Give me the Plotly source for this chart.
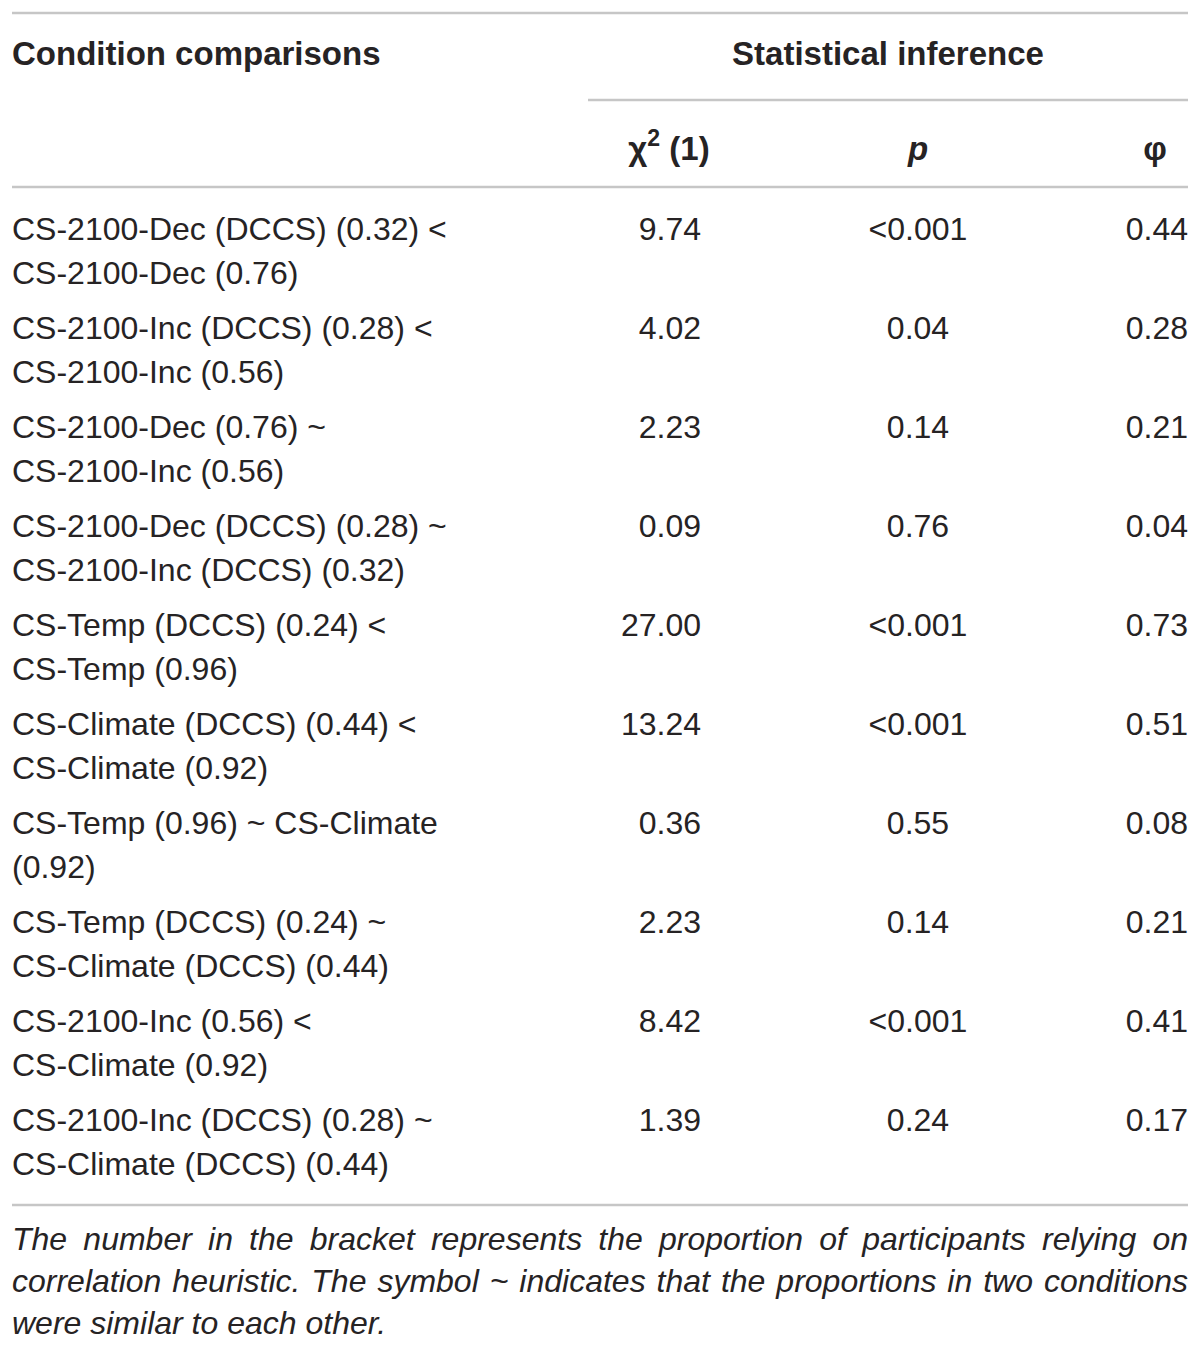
import plotly.graph_objects as go

# ---------------- data ----------------
comparison_line1 = [
    "CS-2100-Dec (DCCS) (0.32) <",
    "CS-2100-Inc (DCCS) (0.28) <",
    "CS-2100-Dec (0.76) ~",
    "CS-2100-Dec (DCCS) (0.28) ~",
    "CS-Temp (DCCS) (0.24) <",
    "CS-Climate (DCCS) (0.44) <",
    "CS-Temp (0.96) ~ CS-Climate",
    "CS-Temp (DCCS) (0.24) ~",
    "CS-2100-Inc (0.56) <",
    "CS-2100-Inc (DCCS) (0.28) ~",
]
comparison_line2 = [
    "CS-2100-Dec (0.76)",
    "CS-2100-Inc (0.56)",
    "CS-2100-Inc (0.56)",
    "CS-2100-Inc (DCCS) (0.32)",
    "CS-Temp (0.96)",
    "CS-Climate (0.92)",
    "(0.92)",
    "CS-Climate (DCCS) (0.44)",
    "CS-Climate (0.92)",
    "CS-Climate (DCCS) (0.44)",
]
chi2 = ["9.74", "4.02", "2.23", "0.09", "27.00", "13.24", "0.36", "2.23", "8.42", "1.39"]
p_values = ["<0.001", "0.04", "0.14", "0.76", "<0.001", "<0.001", "0.55", "0.14", "<0.001", "0.24"]
phi = ["0.44", "0.28", "0.21", "0.04", "0.73", "0.51", "0.08", "0.21", "0.41", "0.17"]

header_left = "Condition comparisons"
header_group = "Statistical inference"
col_headers = ["χ<sup>2</sup> (1)", "<i>p</i>", "φ"]
footnote_lines = [
    "The number in the bracket represents the proportion of participants relying on",
    "correlation heuristic. The symbol ~ indicates that the proportions in two conditions",
    "were similar to each other.",
]

# ---------------- layout constants ----------------
W, H = 1200, 1346
FONT = "Liberation Sans, Arial, sans-serif"
TXT = "#262324"
RULE = "#c6c6c6"
FS = 32
DY = 4  # text baseline nudge
row0, pitch, sub = 228 + DY, 99, 44
LEFT, RIGHT = 12, 1188

n = len(chi2)
y1 = [row0 + i * pitch for i in range(n)]
y2 = [v + sub for v in y1]

fig = go.Figure()

def txt(x, y, text, pos, size=FS, family=FONT, color=TXT):
    fig.add_trace(go.Scatter(
        x=x, y=y, text=text, mode="text", textposition=pos,
        textfont=dict(family=family, size=size, color=color),
        hoverinfo="skip", showlegend=False, cliponaxis=False))

# body
txt([LEFT] * n, y1, comparison_line1, "middle right")
txt([LEFT] * n, y2, comparison_line2, "middle right")
txt([701] * n, y1, chi2, "middle left")
txt([918] * n, y1, p_values, "middle center")
txt([RIGHT] * n, y1, phi, "middle left")

# headers
txt([LEFT], [53 + DY], ["<b>" + header_left + "</b>"], "middle right", size=33)
txt([888], [53 + DY], ["<b>" + header_group + "</b>"], "middle center", size=33)
txt([669, 918, 1155], [148 + DY] * 3, ["<b>" + h + "</b>" for h in col_headers], "middle center", size=33)

# footnote: justified lines (word placement from Arial/Liberation advance widths)
AW = dict(a=556, b=556, c=500, d=556, e=556, f=278, g=556, h=556, i=222, j=222, k=500,
          l=222, m=833, n=556, o=556, p=556, q=556, r=333, s=500, t=278, u=556, v=500,
          w=722, x=500, y=500, z=500, T=611)
AW.update({" ": 278, ".": 278, "~": 584, ",": 278})
FN_FS = 32

def wwidth(word):
    return sum(AW.get(ch, 556) for ch in word) * FN_FS / 1000.0

fn_y = [1238 + DY, 1280 + DY, 1322 + DY]
fx, fy, ft = [], [], []
for k, line in enumerate(footnote_lines):
    words = line.split(" ")
    if k < len(footnote_lines) - 1:
        widths = [wwidth(w) for w in words]
        gap = (RIGHT - LEFT - sum(widths)) / (len(words) - 1)
        x = LEFT
        for w, wd in zip(words, widths):
            fx.append(x); fy.append(fn_y[k]); ft.append("<i>" + w + "</i>")
            x += wd + gap
    else:
        fx.append(LEFT); fy.append(fn_y[k]); ft.append("<i>" + line + "</i>")
fig.add_trace(go.Scatter(
    x=fx, y=fy, text=ft, mode="text", textposition="middle right",
    textfont=dict(family=FONT, size=FN_FS, color=TXT),
    hoverinfo="skip", showlegend=False, cliponaxis=False))

# rules
rules = [(LEFT, RIGHT, 13), (588, RIGHT, 100), (LEFT, RIGHT, 187), (LEFT, RIGHT, 1205)]
for x0, x1, yy in rules:
    fig.add_shape(type="line", x0=x0, x1=x1, y0=yy, y1=yy,
                  line=dict(color=RULE, width=2.5), layer="below")

fig.update_layout(
    width=W, height=H, margin=dict(l=0, r=0, t=0, b=0),
    paper_bgcolor="white", plot_bgcolor="white",
    xaxis=dict(range=[0, W], visible=False, fixedrange=True),
    yaxis=dict(range=[H, 0], visible=False, fixedrange=True),
)

fig.write_html(
    "out.html",
    config={"displayModeBar": False},
    post_script="document.body.style.margin='0';document.body.style.overflow='hidden';",
)
